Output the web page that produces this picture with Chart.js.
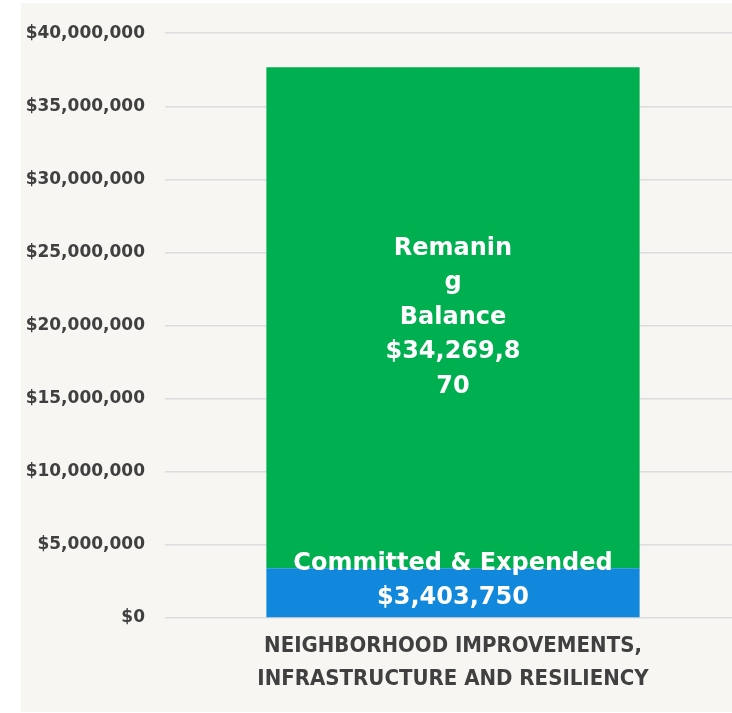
<!DOCTYPE html>
<html lang="en">
<head>
    <meta charset="UTF-8">
    <title>Neighborhood Improvements Budget</title>
    <script src="https://cdn.jsdelivr.net/npm/chart.js"></script>
    <style>
        body {
            margin: 0;
            background: #ffffff;
        }
        #wrap {
            position: absolute;
            left: 21px;
            top: 3px;
            width: 711px;
            height: 709px;
            background: #f7f6f3;
            overflow: hidden;
        }
    </style>
</head>
<body>
    <div id="wrap">
        <canvas id="budgetChart" width="720" height="709"></canvas>
    </div>

    <script>
        const categories = [['NEIGHBORHOOD IMPROVEMENTS,', 'INFRASTRUCTURE AND RESILIENCY']];
        const committed = [3403750];
        const remaining = [34269870];
        const committedLabel = ['Committed & Expended', '$3,403,750'];
        const remainingLabel = ['Remanin', 'g', 'Balance', '$34,269,8', '70'];

        // draws the text inside each stacked segment
        const segmentText = {
            id: 'segmentText',
            afterDatasetsDraw(chart) {
                const ctx = chart.ctx;
                ctx.save();
                ctx.fillStyle = '#ffffff';
                ctx.font = 'bold 24px "DejaVu Sans", sans-serif';
                ctx.textAlign = 'center';
                ctx.textBaseline = 'middle';
                chart.data.datasets.forEach(function(ds, i) {
                    const bar = chart.getDatasetMeta(i).data[0];
                    const lines = ds.textLines;
                    const lh = 34.5;
                    const mid = (bar.y + bar.base) / 2 + (ds.textShift || 0);
                    const start = mid - (lines.length - 1) * lh / 2;
                    lines.forEach(function(line, j) {
                        ctx.fillText(line, bar.x, start + j * lh);
                    });
                });
                ctx.restore();
            }
        };

        const ctx = document.getElementById('budgetChart').getContext('2d');
        new Chart(ctx, {
            type: 'bar',
            data: {
                labels: categories,
                datasets: [
                    {
                        label: 'Committed & Expended',
                        data: committed,
                        backgroundColor: '#1188db',
                        textLines: committedLabel,
                        textShift: -12
                    },
                    {
                        label: 'Remaining Balance',
                        data: remaining,
                        backgroundColor: '#00af50',
                        textLines: remainingLabel
                    }
                ]
            },
            options: {
                responsive: false,
                animation: false,
                barPercentage: 0.81,
                categoryPercentage: 0.8,
                layout: { padding: { top: 19, bottom: 0, right: 0 } },
                plugins: {
                    legend: { display: false },
                    tooltip: { enabled: false }
                },
                scales: {
                    x: {
                        stacked: true,
                        grid: { display: false },
                        border: { display: false },
                        afterFit: function(axis) { axis.height = 94; },
                        ticks: {
                            color: '#404040',
                            padding: 4,
                            font: { family: '"DejaVu Sans Condensed", "DejaVu Sans", sans-serif', size: 22, weight: 'bold', lineHeight: 1.5 }
                        }
                    },
                    y: {
                        stacked: true,
                        min: 0,
                        max: 40000000,
                        afterFit: function(axis) { axis.width = 144; },
                        grid: { color: '#dcdcdc', lineWidth: 1.5, drawTicks: false },
                        border: { display: false },
                        ticks: {
                            stepSize: 5000000,
                            padding: 20,
                            color: '#404040',
                            font: { family: '"DejaVu Sans", sans-serif', size: 17, weight: 'bold' },
                            callback: function(v) { return '$' + v.toLocaleString('en-US'); }
                        }
                    }
                }
            },
            plugins: [segmentText]
        });
    </script>
</body>
</html>
